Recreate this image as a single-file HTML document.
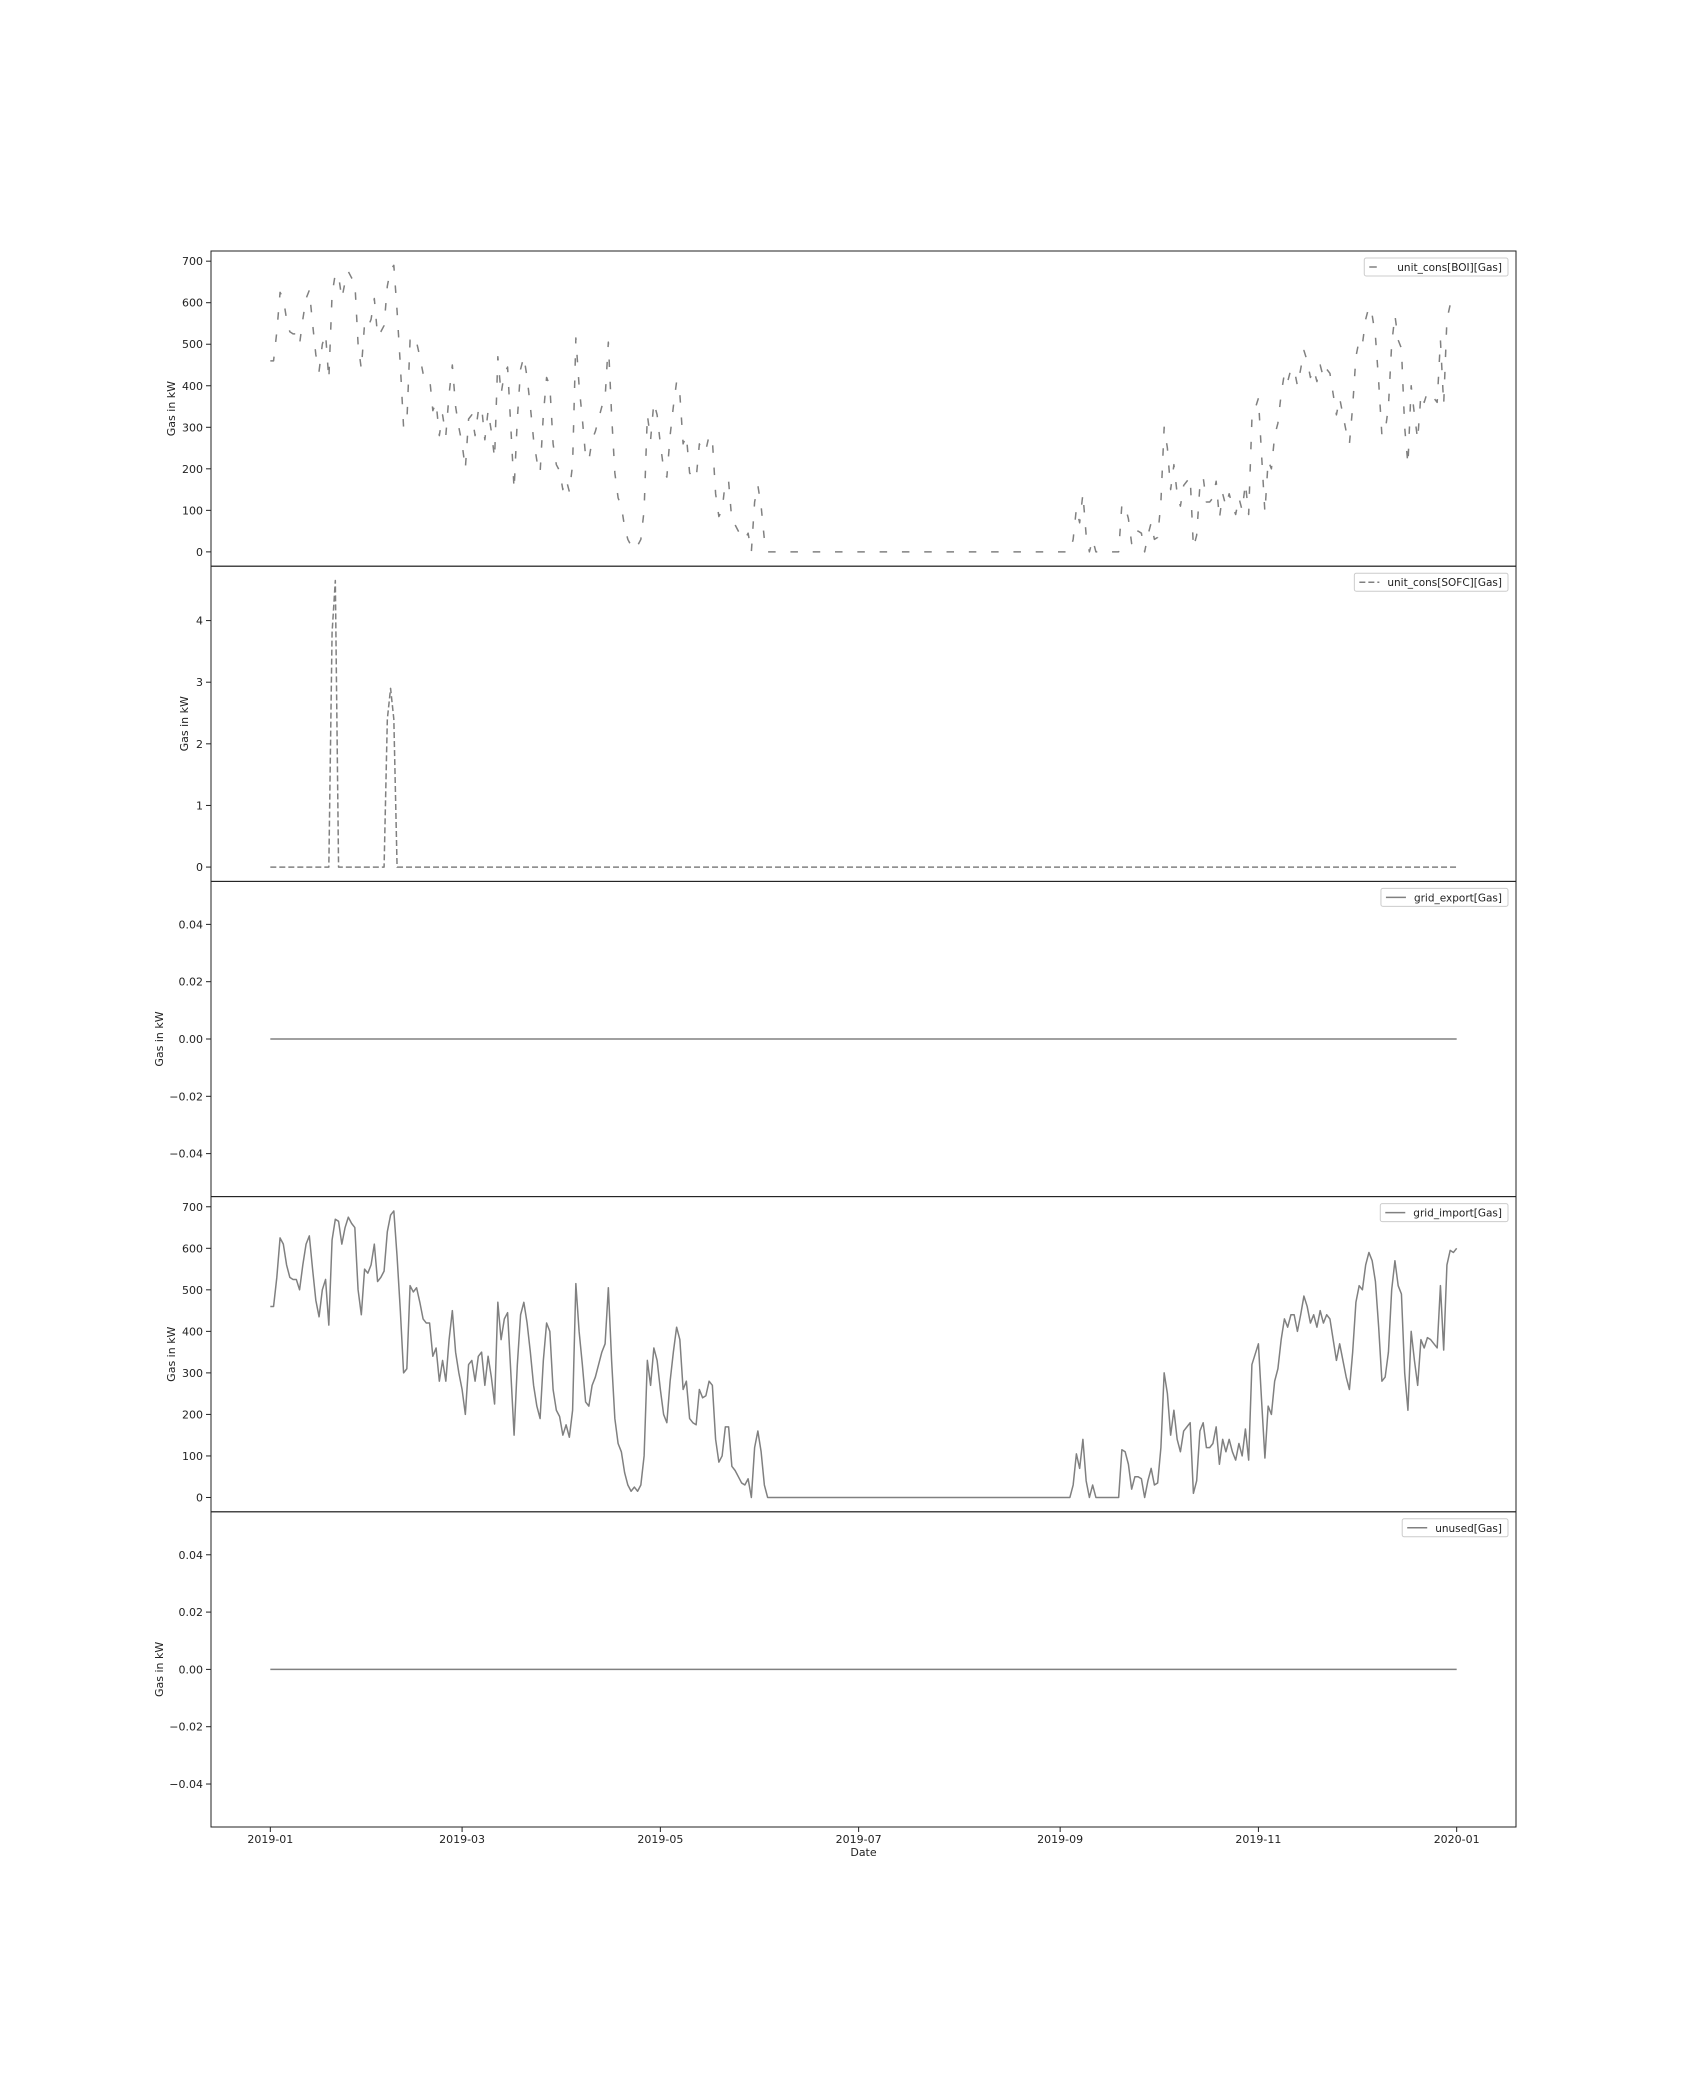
<!DOCTYPE html>
<html><head><meta charset="utf-8">
<style>
html,body{margin:0;padding:0;background:#fff;}
svg{display:block;font-family:"DejaVu Sans","Liberation Sans",sans-serif;}
</style></head>
<body>
<svg id="fig" width="1684" height="2088" viewBox="0 0 1684 2088" xmlns="http://www.w3.org/2000/svg"></svg>
<script>
const xTickLabels = ["2019-01","2019-03","2019-05","2019-07","2019-09","2019-11","2020-01"];
const xTickDays = [0,59,120,181,243,304,365];
const importValues = [
460,460,530,625,610,560,530,525,525,500,
560,610,630,550,475,435,500,525,415,620,
670,665,610,650,675,660,650,500,440,550,
540,560,610,520,530,545,640,680,690,580,
450,300,310,510,495,505,470,430,420,420,
340,360,280,330,280,380,450,350,300,
260,200,320,330,280,340,350,270,340,
290,225,470,380,430,445,300,150,320,440,
470,420,350,270,220,190,330,420,400,260,
210,195,150,175,145,210,515,400,320,230,
220,270,290,320,350,370,505,330,190,
130,110,60,30,15,25,15,30,100,330,
270,360,330,260,200,180,280,350,410,380,
260,280,190,180,175,260,240,245,280,270,
140,85,100,170,170,75,65,50,35,30,45,0,120,160,110,30,0,
0,0,0,0,0,0,0,0,0,0,
0,0,0,0,0,0,0,0,0,0,
0,0,0,0,0,0,0,0,0,0,
0,0,0,0,0,0,0,0,0,0,
0,0,0,0,0,0,0,0,0,0,
0,0,0,0,0,0,0,0,0,0,
0,0,0,0,0,0,0,0,0,0,
0,0,0,0,0,0,0,0,0,0,
0,0,0,0,0,0,0,0,0,0,
0,0,0,
30,105,70,140,40,0,30,0,0,0,0,0,0,0,0,
115,110,80,20,50,50,45,0,40,70,30,35,120,300,
250,150,210,140,110,160,170,180,10,40,160,180,120,120,130,170,80,140,110,140,110,90,130,100,165,90,320,345,370,230,95,
220,200,280,310,380,430,410,440,440,400,440,485,460,420,440,410,450,420,440,430,380,330,370,330,290,260,
350,470,510,500,560,590,570,520,410,280,290,350,500,570,510,490,300,210,400,330,270,380,360,385,380,370,360,510,355,560,595,590,600
];
const boiValues = [
460,460,530,625,610,560,530,525,525,500,
560,610,630,550,475,435,500,525,415,620,
670,665,610,650,675,660,650,500,440,550,
540,560,610,520,530,545,640,680,690,580,
450,300,310,510,495,505,470,430,420,420,
340,360,280,330,280,380,450,350,300,
260,200,320,330,280,340,350,270,340,
290,225,470,380,430,445,300,150,320,440,
470,420,350,270,220,190,330,420,400,260,
210,195,150,175,145,210,515,400,320,230,
220,270,290,320,350,370,505,330,190,
130,110,60,30,15,25,15,30,100,330,
270,360,330,260,200,180,280,350,410,380,
260,280,190,180,175,260,240,245,280,270,
140,85,100,170,170,75,65,50,35,30,45,0,120,160,110,30,0,
0,0,0,0,0,0,0,0,0,0,
0,0,0,0,0,0,0,0,0,0,
0,0,0,0,0,0,0,0,0,0,
0,0,0,0,0,0,0,0,0,0,
0,0,0,0,0,0,0,0,0,0,
0,0,0,0,0,0,0,0,0,0,
0,0,0,0,0,0,0,0,0,0,
0,0,0,0,0,0,0,0,0,0,
0,0,0,0,0,0,0,0,0,0,
0,0,0,
30,105,70,140,40,0,30,0,0,0,0,0,0,0,0,
115,110,80,20,50,50,45,0,40,70,30,35,120,300,
250,150,210,140,110,160,170,180,10,40,160,180,120,120,130,170,80,140,110,140,110,90,130,100,165,90,320,345,370,230,95,
220,200,280,310,380,430,410,440,440,400,440,485,460,420,440,410,450,420,440,430,380,330,370,330,290,260,
350,470,510,500,560,590,570,520,410,280,290,350,500,570,510,490,300,210,400,330,270,380,360,385,380,370,360,510,355,560,595,590,600
];
const sofcDays = [0,18,19,20,21,35,36,37,38,39,365];
const sofcValues = [0,0,3.8,4.65,0,0,2.4,2.9,2.4,0,0];
const exportDays = [0,365];
const exportValues = [0,0];
const unusedDays = [0,365];
const unusedValues = [0,0];
const flatTicks = [-0.04,-0.02,0.00,0.02,0.04];
const flatTickLabels = ["\u22120.04","\u22120.02","0.00","0.02","0.04"];
const bigTicks = [0,100,200,300,400,500,600,700];
const sofcTicks = [0,1,2,3,4];

const NS = "http://www.w3.org/2000/svg";
const svg = document.getElementById('fig');
const L = 211, R = 1516, TOP = 251, BOT = 1827;
const PH = (BOT - TOP) / 5;
const dMin = -18.25, dMax = 383.25;
function xScale(d){ return L + (d - dMin) / (dMax - dMin) * (R - L); }
function mk(tag, attrs){ const e = document.createElementNS(NS, tag); for (const k in attrs) e.setAttribute(k, attrs[k]); return e; }

function panel(i, cfg){
  const y0 = TOP + i * PH, y1 = y0 + PH;
  const g = mk('g', {});
  
  
  svg.appendChild(g);
  let lo, hi;
  if (cfg.flat){ lo = -0.055; hi = 0.055; }
  else { const m = Math.max(...cfg.vals); lo = -0.05 * m; hi = 1.05 * m; }
  const yScale = v => y1 - (v - lo) / (hi - lo) * (y1 - y0);
  let pts = [];
  if (cfg.days) cfg.days.forEach((d, k) => pts.push(xScale(d).toFixed(2) + ',' + yScale(cfg.vals[k]).toFixed(2)));
  else cfg.vals.forEach((v, d) => pts.push(xScale(d).toFixed(2) + ',' + yScale(v).toFixed(2)));
  const line = mk('polyline', {points: pts.join(' '), fill: 'none', stroke: '#808080', 'stroke-width': 1.5, 'stroke-linejoin': 'round'});
  if (cfg.dash) line.setAttribute('stroke-dasharray', cfg.dash);
  
  
  g.appendChild(line);
  const frame = mk('rect', {x: L, y: y0, width: R - L, height: PH, fill: 'none', stroke: '#222', 'stroke-width': 1});
  
  
  g.appendChild(frame);
  cfg.ticks.forEach((t, k) => {
    const y = yScale(t);
    g.appendChild(mk('line', {x1: L - 5, x2: L, y1: y, y2: y, stroke: '#222', 'stroke-width': 1}));
    const tx = mk('text', {x: L - 8, y: y + 4, 'text-anchor': 'end', 'font-size': 11, fill: '#222'});
    tx.textContent = cfg.labels ? cfg.labels[k] : String(t);
    
    
    g.appendChild(tx);
  });
  const yl = mk('text', {x: 0, y: 0, 'text-anchor': 'middle', 'font-size': 11, fill: '#222', transform: 'translate(' + (cfg.ylx + 6) + ',' + ((y0 + y1) / 2) + ') rotate(-90)'});
  yl.textContent = 'Gas in kW';
  
  
  g.appendChild(yl);
  const lg = mk('g', {});
  
  
  g.appendChild(lg);
  const box = mk('rect', {x: 0, y: y0 + 7, width: 10, height: 18, rx: 2, fill: '#fff', 'fill-opacity': 0.8, stroke: '#ccc', 'stroke-width': 1});
  lg.appendChild(box);
  const lt = mk('text', {x: 0, y: y0 + 20, 'font-size': 10.5, fill: '#222', 'text-anchor': 'end'});
  lt.textContent = cfg.legend;
  lg.appendChild(lt);
  const boxR = R - 8, textR = boxR - 6;
  lt.setAttribute('x', textR);
  let tw = 0; try { tw = lt.getComputedTextLength(); } catch(e) { tw = cfg.legend.length * 6; }
  if (!tw) tw = cfg.legend.length * 6;
  const textL = textR - tw;
  const hx1 = textL - 28, hx2 = textL - 8;
  const bx = hx1 - 5;
  box.setAttribute('x', bx); box.setAttribute('width', boxR - bx);
  const h = mk('line', {x1: hx1, x2: hx2, y1: y0 + 16, y2: y0 + 16, stroke: '#808080', 'stroke-width': 1.5});
  if (cfg.dash) h.setAttribute('stroke-dasharray', cfg.dash);
  lg.appendChild(h);
}

panel(0, {name: 'boi', vals: boiValues, ticks: bigTicks, dash: '7.5 14.8', legend: 'unit_cons[BOI][Gas]', ylx: 169});
panel(1, {name: 'sofc', days: sofcDays, vals: sofcValues, ticks: sofcTicks, dash: '6 3', legend: 'unit_cons[SOFC][Gas]', ylx: 182});
panel(2, {name: 'grid-export', days: exportDays, vals: exportValues, flat: true, ticks: flatTicks, labels: flatTickLabels, legend: 'grid_export[Gas]', ylx: 157});
panel(3, {name: 'grid-import', vals: importValues, ticks: bigTicks, legend: 'grid_import[Gas]', ylx: 169});
panel(4, {name: 'unused', days: unusedDays, vals: unusedValues, flat: true, ticks: flatTicks, labels: flatTickLabels, legend: 'unused[Gas]', ylx: 157});

xTickDays.forEach((d, k) => {
  const x = xScale(d);
  svg.appendChild(mk('line', {x1: x, x2: x, y1: BOT, y2: BOT + 5, stroke: '#222', 'stroke-width': 1}));
  const t = mk('text', {x: x, y: BOT + 16, 'text-anchor': 'middle', 'font-size': 11, fill: '#222'});
  t.textContent = xTickLabels[k];
  
  
  svg.appendChild(t);
});
const xt = mk('text', {x: (L + R) / 2, y: BOT + 29, 'text-anchor': 'middle', 'font-size': 11, fill: '#222'});
xt.textContent = 'Date';


svg.appendChild(xt);
</script>
</body></html>
